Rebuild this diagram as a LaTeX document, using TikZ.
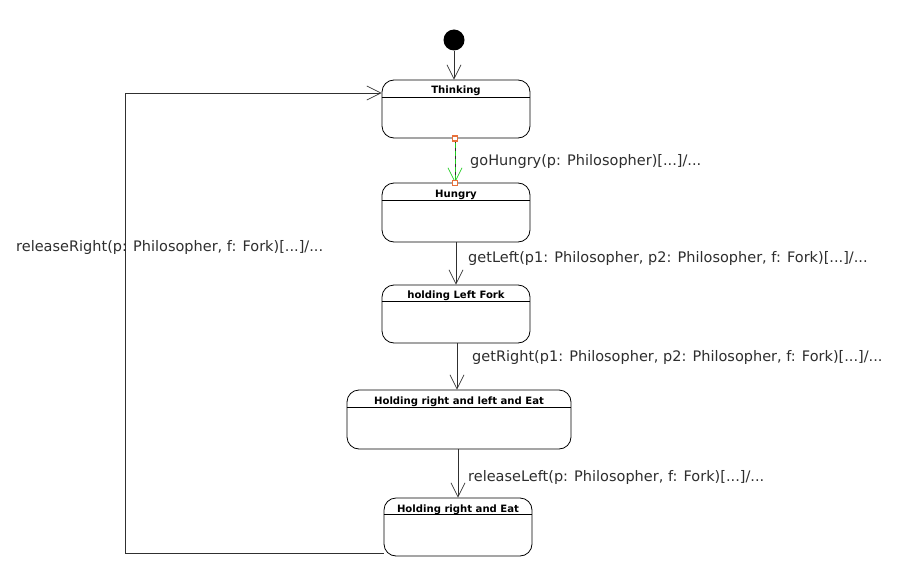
\documentclass[tikz,border=0pt]{standalone}
\usepackage{fontspec}
\setmainfont{DejaVu Sans}
\usetikzlibrary{arrows.meta,calc}
\definecolor{lbl}{HTML}{2E2E2E}
\definecolor{ln}{HTML}{303030}
\definecolor{sel}{HTML}{E8703A}
\definecolor{grn}{HTML}{22CC22}
\tikzset{
  state/.style={draw=black,line width=0.8pt,rounded corners=12pt,fill=white},
  title/.style={font=\bfseries\fontsize{10.1}{11}\selectfont,text=black,inner sep=0pt},
  lab/.style={font=\fontsize{14.5}{16}\selectfont,text=lbl,anchor=west,inner sep=0pt},
  tip/.style={-{Straight Barb[length=14pt,width=14pt,line width=0.7pt]}},
  arr/.style={draw=ln,line width=0.7pt,tip},
  handle/.style={draw=sel,fill=white,line width=1.2pt,minimum size=5pt,inner sep=0pt}
}
\newcommand{\hdr}[2]{\draw[line width=0.8pt] ($(#1.north west)+(0,#2)$) -- ($(#1.north east)+(0,#2)$);}
\begin{document}
\begin{tikzpicture}[x=1pt,y=-1pt]
\useasboundingbox[fill=white] (0,0) rectangle (920,583);
% initial
\node[circle,fill=black,minimum size=21pt,inner sep=0pt] (init) at (454,40) {};
% states
\node[state,minimum width=148pt,minimum height=58pt] (T) at (456,109) {};
\node[state,minimum width=148pt,minimum height=59pt] (H) at (456,212.5) {};
\node[state,minimum width=148pt,minimum height=58pt] (L) at (456,314) {};
\node[state,minimum width=224pt,minimum height=59pt] (E) at (459,419.5) {};
\node[state,minimum width=148pt,minimum height=58pt] (R) at (458,527) {};
\hdr{T}{18}\hdr{H}{18}\hdr{L}{17}\hdr{E}{18}\hdr{R}{17}
\node[title] (tT) at (456,91) {Thinking};
\node[title] (tH) at (456,195) {Hungry};
\node[title] (tL) at (456,296) {holding Left Fork};
\node[title] (tE) at (459,402) {Holding right and left and Eat};
\node[title] (tR) at (458,510) {Holding right and Eat};
% transitions
\draw[arr] (init.south) -- (init.south |- T.north);
\draw[line width=0.7pt,draw=ln] ([xshift=-1pt]T.south) -- ([xshift=-1pt]H.north);
\draw[line width=0.8pt,draw=grn,dash pattern=on 5pt off 3pt,tip] ([xshift=-1pt,yshift=3pt]T.south) -- ([xshift=-1pt]H.north);
\node[handle] (h1) at ([xshift=-1pt]T.south) {};
\node[handle] (h2) at ([xshift=-1pt]H.north) {};
\draw[arr] (H.south) -- (L.north);
\draw[arr] ([xshift=1pt]L.south) -- ([xshift=1pt]L.south |- E.north);
\draw[arr] (E.south -| R.north) -- (R.north);
\coordinate (c1) at (125,553);
\coordinate (c2) at (125,93);
\draw[arr] ([yshift=-26pt]R.west) -- (c1) -- (c2) -- (T.west |- c2);
% labels
\node[lab] (l1) at (470,161.5) {goHungry(p: Philosopher)[...]/...};
\node[lab] (l2) at (468,258.5) {getLeft(p1: Philosopher, p2: Philosopher, f: Fork)[...]/...};
\node[lab] (l3) at (472,357.5) {getRight(p1: Philosopher, p2: Philosopher, f: Fork)[...]/...};
\node[lab] (l4) at (468,477.5) {releaseLeft(p: Philosopher, f: Fork)[...]/...};
\node[lab] (l5) at (16,247.5) {releaseRight(p: Philosopher, f: Fork)[...]/...};
\end{tikzpicture}
\end{document}
